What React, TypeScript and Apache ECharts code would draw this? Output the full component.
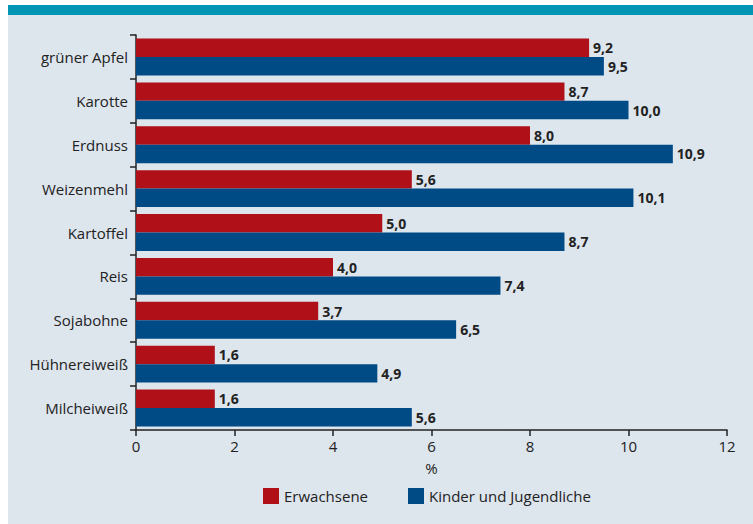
import React, { useEffect, useRef } from "react";
import * as echarts from "echarts";

const categories = ["grüner Apfel", "Karotte", "Erdnuss", "Weizenmehl", "Kartoffel", "Reis", "Sojabohne", "Hühnereiweiß", "Milcheiweiß"];
const adults = [9.2, 8.7, 8.0, 5.6, 5.0, 4.0, 3.7, 1.6, 1.6];
const children = [9.5, 10.0, 10.9, 10.1, 8.7, 7.4, 6.5, 4.9, 5.6];
const seriesNames = ["Erwachsene", "Kinder und Jugendliche"];
const axisName = "%";

const FONT = "'Open Sans', 'Noto Sans', sans-serif";

export default function App() {
  const ref = useRef<HTMLDivElement>(null);
  useEffect(() => {
    if (!ref.current) return;
    const chart = echarts.init(ref.current, null, { renderer: "svg" });
    const fmt = (p: any) => Number(p.value).toFixed(1).replace(".", ",");
    chart.setOption({
      animation: false,
      textStyle: { fontFamily: FONT },
      graphic: [
        { type: "rect", shape: { x: 8, y: 5, width: 745, height: 519 }, style: { fill: "#dde5ed" }, z: -10 },
        { type: "rect", shape: { x: 8, y: 5, width: 745, height: 10 }, style: { fill: "#0096b4" }, z: -9 },
      ],
      grid: { left: 136, right: 26, top: 35, bottom: 94, containLabel: false },
      legend: {
        top: 483,
        left: 258,
        itemWidth: 16,
        itemHeight: 16,
        itemGap: 40,
        icon: "rect",
        textStyle: { fontSize: 15, color: "#222", fontFamily: FONT },
        data: seriesNames,
      },
      xAxis: {
        type: "value",
        min: 0,
        max: 12,
        interval: 2,
        name: axisName,
        nameLocation: "middle",
        nameGap: 30,
        nameTextStyle: { fontSize: 15, color: "#222", fontFamily: FONT },
        axisLine: { show: true, lineStyle: { color: "#222", width: 1.5 } },
        axisTick: { show: true, length: 6, lineStyle: { color: "#222", width: 1.5 } },
        axisLabel: { fontSize: 15, color: "#222", margin: 8, fontFamily: FONT },
        splitLine: { show: false },
      },
      yAxis: {
        type: "category",
        inverse: true,
        data: categories,
        axisLine: { show: true, lineStyle: { color: "#222", width: 1.5 } },
        axisTick: { show: true, length: 6, lineStyle: { color: "#222", width: 1.5 } },
        axisLabel: { fontSize: 15, color: "#222", margin: 8, fontFamily: FONT },
      },
      series: [
        {
          name: seriesNames[0],
          type: "bar",
          data: adults,
          barGap: "0%",
          barCategoryGap: "16%",
          itemStyle: { color: "#b01118" },
          label: { show: true, position: "right", distance: 4, formatter: fmt, fontSize: 14, fontWeight: "bold", color: "#222", fontFamily: FONT },
        },
        {
          name: seriesNames[1],
          type: "bar",
          data: children,
          barGap: "0%",
          barCategoryGap: "16%",
          itemStyle: { color: "#004a86" },
          label: { show: true, position: "right", distance: 4, formatter: fmt, fontSize: 14, fontWeight: "bold", color: "#222", fontFamily: FONT },
        },
      ],
    });
    return () => chart.dispose();
  }, []);
  return <div ref={ref} style={{ position: "fixed", left: 0, top: 0, width: 753, height: 524, background: "#fff" }} />;
}
